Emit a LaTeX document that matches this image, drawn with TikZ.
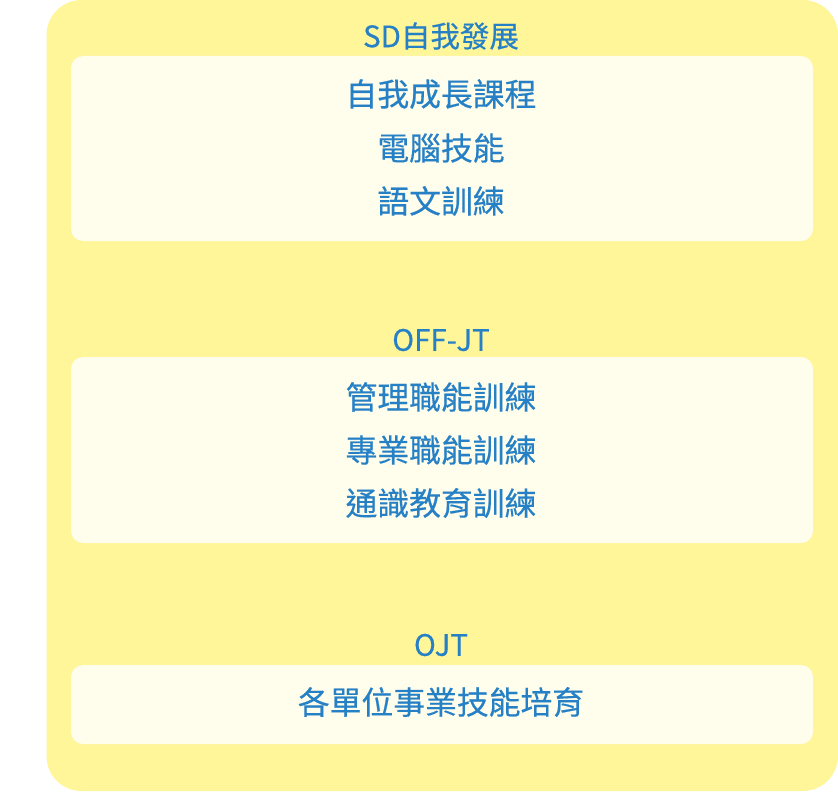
\documentclass[tikz,border=0pt]{standalone}
\usepackage{fontspec}
\newfontfamily\cjk[FakeBold=0.4]{Noto Sans CJK TC}
\definecolor{outerY}{RGB}{255,245,153}
\definecolor{innerY}{RGB}{255,253,235}
\definecolor{txtB}{RGB}{38,128,198}
\tikzset{
  outerbox/.style={fill=outerY, draw=none, rounded corners=35pt},
  innerbox/.style={fill=innerY, draw=none, rounded corners=12pt},
  head/.style={text=txtB, font=\cjk\fontsize{29.5pt}{33pt}\selectfont, inner sep=0pt, anchor=center},
  item/.style={text=txtB, font=\cjk\fontsize{31.8pt}{36pt}\selectfont, inner sep=0pt, anchor=center},
}
\begin{document}
\begin{tikzpicture}[x=1pt,y=1pt]
\useasboundingbox (0,-792) rectangle (838,0);
\fill[outerbox] (46.5,-791) rectangle (838,0);
\fill[innerbox] (71,-241) rectangle (813,-56);
\fill[innerbox] (71,-543) rectangle (813,-357);
\fill[innerbox] (71,-744) rectangle (813,-665);
\node[head] (h1) at (441,-36) {SD自我發展};
\node[item] (a1) at (441,-94) {自我成長課程};
\node[item] (a2) at (441,-148) {電腦技能};
\node[item] (a3) at (441,-201) {語文訓練};
\node[head] (h2) at (441,-340) {OFF-JT};
\node[item] (b1) at (441,-397) {管理職能訓練};
\node[item] (b2) at (441,-450) {專業職能訓練};
\node[item] (b3) at (441,-503) {通識教育訓練};
\node[head] (h3) at (441,-645) {OJT};
\node[item] (c1) at (441,-702) {各單位事業技能培育};
\end{tikzpicture}
\end{document}
